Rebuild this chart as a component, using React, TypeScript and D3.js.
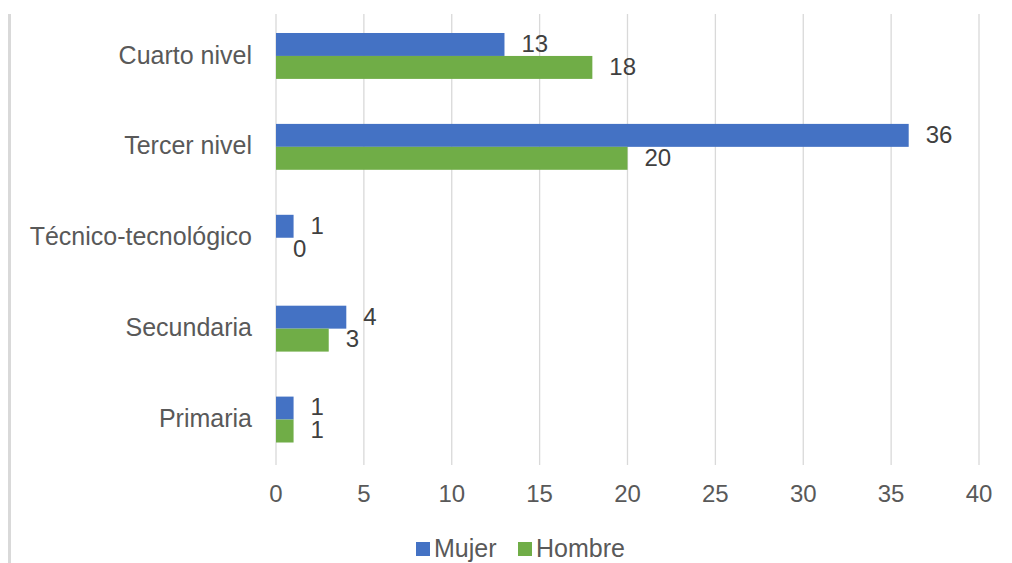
import React from "react";
import * as d3 from "d3";

const categories = ["Cuarto nivel", "Tercer nivel", "Técnico-tecnológico", "Secundaria", "Primaria"];
const mujer = [13, 36, 1, 4, 1];
const hombre = [18, 20, 0, 3, 1];
const xTicks = [0, 5, 10, 15, 20, 25, 30, 35, 40];
const seriesNames = ["Mujer", "Hombre"];
const colors = ["#4472C4", "#70AD47"];

const W = 1012;
const H = 563;
const left = 276;
const right = 979;
const top = 10.5;
const bottom = 465;
const font = "'Liberation Sans', Arial, sans-serif";
const textColor = "#595959";

export default function App() {
  const x = d3.scaleLinear().domain([0, 40]).range([left, right]);
  const y = d3.scaleBand<string>().domain(categories).range([top, bottom]).paddingInner(0.495).paddingOuter(0.2475);
  const inner = d3.scaleBand<string>().domain(seriesNames).range([0, y.bandwidth()]);
  const series = [mujer, hombre];

  return (
    <svg width={W} height={H} style={{ position: "absolute", left: 0, top: 0, background: "#fff" }}>
      <line x1={9.5} x2={9.5} y1={14} y2={H} stroke="#D9D9D9" strokeWidth={3} />
      {xTicks.map((t) => (
        <line key={t} x1={x(t)} x2={x(t)} y1={14} y2={bottom} stroke="#D9D9D9" strokeWidth={1.3} />
      ))}
      {xTicks.map((t) => (
        <text key={"l" + t} x={x(t)} y={496} textAnchor="middle" dominantBaseline="middle" fontFamily={font} fontSize={24} fill={textColor}>
          {t}
        </text>
      ))}
      {categories.map((c) => (
        <text key={c} x={252} y={(y(c) ?? 0) + y.bandwidth() / 2 + 1} textAnchor="end" dominantBaseline="middle" fontFamily={font} fontSize={25} fill={textColor}>
          {c}
        </text>
      ))}
      {series.map((vals, si) =>
        vals.map((v, i) => {
          const c = categories[i];
          const by = (y(c) ?? 0) + (inner(seriesNames[si]) ?? 0);
          const bh = inner.bandwidth();
          return (
            <g key={si + "-" + i}>
              {v > 0 && <rect x={x(0)} y={by} width={x(v) - x(0)} height={bh} fill={colors[si]} />}
              <text x={x(v) + 17} y={by + bh / 2 + 1} dominantBaseline="middle" fontFamily={font} fontSize={24} fill="#404040">
                {v}
              </text>
            </g>
          );
        })
      )}
      <g>
        <rect x={416} y={542} width={14} height={14} fill={colors[0]} />
        <text x={434} y={550} dominantBaseline="middle" fontFamily={font} fontSize={25} fill={textColor}>Mujer</text>
        <rect x={518} y={542} width={14} height={14} fill={colors[1]} />
        <text x={536} y={550} dominantBaseline="middle" fontFamily={font} fontSize={25} fill={textColor}>Hombre</text>
      </g>
    </svg>
  );
}
